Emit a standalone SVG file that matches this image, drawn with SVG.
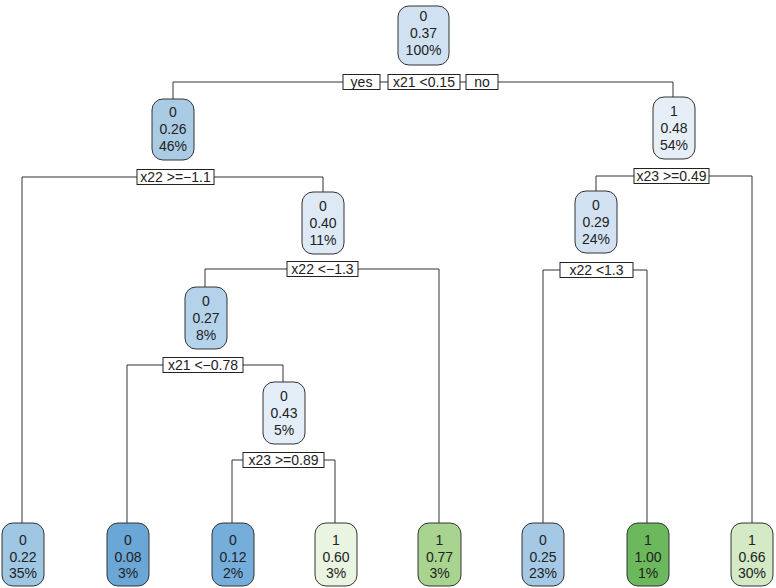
<svg xmlns="http://www.w3.org/2000/svg" width="776" height="588" viewBox="0 0 776 588">
<style>
.n rect{stroke:#333;stroke-width:1}
.t{font-family:"Liberation Sans",Arial,sans-serif;font-size:14px;fill:#222;text-anchor:middle}
.lb rect{fill:#fff;stroke:#222;stroke-width:1}
.c{fill:none;stroke:#333;stroke-width:1}
</style>
<rect width="776" height="588" fill="#fff"/>
<g id="connectors" class="c">
<path d="M173,99V82H343M380,82H388M460,82H466M498,82H673V97"/>
<path d="M22,523V177H137M214,177H323V192"/>
<path d="M596,191V176H634M709,176H752V523"/>
<path d="M543,523V270H560M633,270H647V523"/>
<path d="M205,287V269H287M358,269H439V523"/>
<path d="M127,523V365H163M243,365H283V382"/>
<path d="M232,523V460H243M324,460H335V523"/>
</g>
<g id="split-labels" class="lb">
<g id="lbl-yes"><rect x="343" y="74.5" width="37" height="15"/><text class="t" x="361.5" y="87">yes</text></g>
<g id="lbl-root"><rect x="388" y="74.5" width="72" height="15"/><text class="t" x="424" y="87">x21 &lt;0.15</text></g>
<g id="lbl-no"><rect x="466" y="74.5" width="32" height="15"/><text class="t" x="482" y="87">no</text></g>
<g id="lbl-n2"><rect x="137" y="169.5" width="77" height="15"/><text class="t" x="175.5" y="182">x22 &gt;=−1.1</text></g>
<g id="lbl-n3"><rect x="634" y="168.5" width="75" height="15"/><text class="t" x="671.5" y="181">x23 &gt;=0.49</text></g>
<g id="lbl-n6"><rect x="560" y="262.5" width="73" height="15"/><text class="t" x="596.5" y="275">x22 &lt;1.3</text></g>
<g id="lbl-n5"><rect x="287" y="261.5" width="71" height="15"/><text class="t" x="322.5" y="274">x22 &lt;−1.3</text></g>
<g id="lbl-n10"><rect x="163" y="357.5" width="80" height="15"/><text class="t" x="203" y="370">x21 &lt;−0.78</text></g>
<g id="lbl-n21"><rect x="243" y="452.5" width="81" height="15"/><text class="t" x="283.5" y="465">x23 &gt;=0.89</text></g>
</g>
<g id="node-root" class="n"><rect x="398" y="6" width="51" height="59" rx="11" fill="#d0e1f2"/><text class="t" x="423.5" y="21">0</text><text class="t" x="423.5" y="38">0.37</text><text class="t" x="423.5" y="55">100%</text></g>
<g id="node-2" class="n"><rect x="152" y="99" width="42" height="61" rx="11" fill="#a9cce4"/><text class="t" x="173" y="117">0</text><text class="t" x="173" y="134">0.26</text><text class="t" x="173" y="151">46%</text></g>
<g id="node-3" class="n"><rect x="653" y="97" width="42" height="62" rx="11" fill="#e6eff8"/><text class="t" x="674" y="116">1</text><text class="t" x="674" y="133">0.48</text><text class="t" x="674" y="150">54%</text></g>
<g id="node-6" class="n"><rect x="575" y="191" width="42" height="62" rx="11" fill="#d3e2f2"/><text class="t" x="596" y="210">0</text><text class="t" x="596" y="227">0.29</text><text class="t" x="596" y="244">24%</text></g>
<g id="node-5" class="n"><rect x="302" y="192" width="42" height="62" rx="11" fill="#dde9f5"/><text class="t" x="323" y="211">0</text><text class="t" x="323" y="228">0.40</text><text class="t" x="323" y="245">11%</text></g>
<g id="node-10" class="n"><rect x="185" y="287" width="42" height="62" rx="11" fill="#b4d2ea"/><text class="t" x="206" y="306">0</text><text class="t" x="206" y="323">0.27</text><text class="t" x="206" y="340">8%</text></g>
<g id="node-21" class="n"><rect x="263" y="382" width="42" height="62" rx="11" fill="#e3eef8"/><text class="t" x="284" y="401">0</text><text class="t" x="284" y="418">0.43</text><text class="t" x="284" y="435">5%</text></g>
<g id="leaf-1" class="n"><rect x="2" y="523" width="42" height="63" rx="11" fill="#9fc7e3"/><text class="t" x="23" y="545">0</text><text class="t" x="23" y="562">0.22</text><text class="t" x="23" y="578">35%</text></g>
<g id="leaf-2" class="n"><rect x="107" y="523" width="42" height="63" rx="11" fill="#6aa7d6"/><text class="t" x="128" y="545">0</text><text class="t" x="128" y="562">0.08</text><text class="t" x="128" y="578">3%</text></g>
<g id="leaf-3" class="n"><rect x="212" y="523" width="42" height="63" rx="11" fill="#75addb"/><text class="t" x="233" y="545">0</text><text class="t" x="233" y="562">0.12</text><text class="t" x="233" y="578">2%</text></g>
<g id="leaf-4" class="n"><rect x="315" y="523" width="42" height="63" rx="11" fill="#e9f4e1"/><text class="t" x="336" y="545">1</text><text class="t" x="336" y="562">0.60</text><text class="t" x="336" y="578">3%</text></g>
<g id="leaf-5" class="n"><rect x="418" y="523" width="43" height="63" rx="11" fill="#a8d490"/><text class="t" x="439.5" y="545">1</text><text class="t" x="439.5" y="562">0.77</text><text class="t" x="439.5" y="578">3%</text></g>
<g id="leaf-6" class="n"><rect x="522" y="523" width="42" height="63" rx="11" fill="#a5c9e5"/><text class="t" x="543" y="545">0</text><text class="t" x="543" y="562">0.25</text><text class="t" x="543" y="578">23%</text></g>
<g id="leaf-7" class="n"><rect x="627" y="523" width="42" height="63" rx="11" fill="#6cb85c"/><text class="t" x="648" y="545">1</text><text class="t" x="648" y="562">1.00</text><text class="t" x="648" y="578">1%</text></g>
<g id="leaf-8" class="n"><rect x="731" y="523" width="42" height="63" rx="11" fill="#d4eac6"/><text class="t" x="752" y="545">1</text><text class="t" x="752" y="562">0.66</text><text class="t" x="752" y="578">30%</text></g>
</svg>
